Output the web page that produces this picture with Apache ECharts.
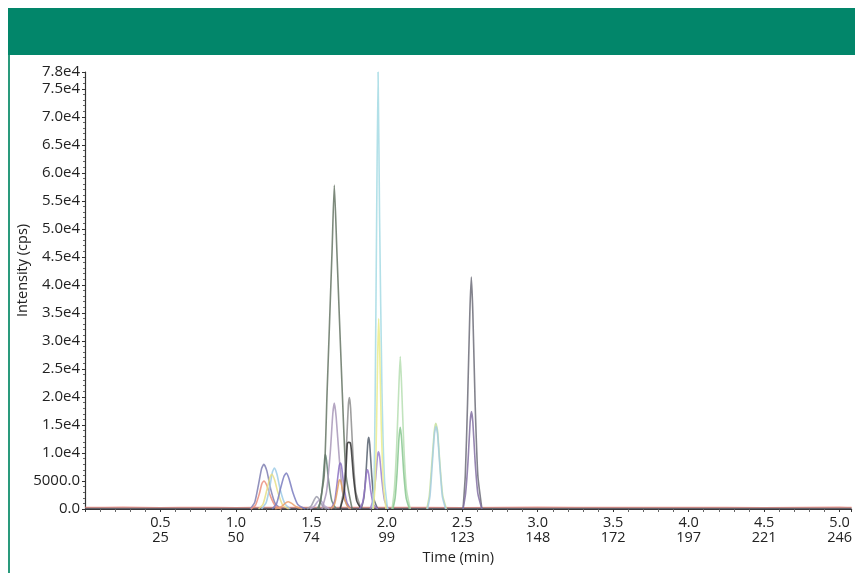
<!DOCTYPE html>
<html>
<head>
<meta charset="utf-8">
<script src="https://cdn.jsdelivr.net/npm/echarts@6/dist/echarts.min.js"></script>
<style>
html,body{margin:0;padding:0;background:#fff;}
#chart{width:855px;height:573px;}
</style>
</head>
<body>
<div id="chart"></div>
<script>
// ---- tick labels ----
const timeTicks = [0.5, 1.0, 1.5, 2.0, 2.5, 3.0, 3.5, 4.0, 4.5, 5.0];
const scanLabels = ['25', '50', '74', '99', '123', '148', '172', '197', '221', '246'];

// ---- traces: [time (min), intensity (cps)] ----
const baselineRed = [[0,250],[0.25,300],[0.5,200],[0.75,280],[1.0,220],[1.25,260],[1.5,240],[2.0,250],[2.5,230],[3.0,300],[3.5,240],[4.0,280],[4.5,230],[5.0,300],[5.08,260]];
const baselineDark = [[0,80],[0.5,60],[1.0,90],[1.5,70],[2.0,80],[2.5,60],[3.0,90],[3.5,70],[4.0,80],[4.5,60],[5.08,80]];
const trace01 = [[1.095,0],[1.125,1200],[1.15,4400],[1.17,7200],[1.185,8000],[1.205,6800],[1.23,3600],[1.26,1000],[1.30,0]];
const trace02 = [[1.10,0],[1.13,700],[1.155,2700],[1.172,4500],[1.185,5000],[1.205,4200],[1.23,2200],[1.26,600],[1.30,0]];
const trace03 = [[1.17,0],[1.20,1100],[1.225,4000],[1.242,6600],[1.255,7300],[1.272,6200],[1.295,3300],[1.325,900],[1.36,0]];
const trace04 = [[1.15,0],[1.18,900],[1.205,3400],[1.225,5600],[1.238,6200],[1.255,5300],[1.28,2800],[1.31,700],[1.35,0]];
const trace05 = [[1.24,0],[1.27,1000],[1.295,3600],[1.318,5800],[1.334,6400],[1.352,5400],[1.378,2900],[1.41,800],[1.46,0]];
const trace06 = [[1.26,0],[1.30,400],[1.33,1100],[1.348,1300],[1.37,1000],[1.40,400],[1.44,0]];
const trace07 = [[1.47,0],[1.50,600],[1.52,1700],[1.535,2200],[1.55,1800],[1.57,700],[1.60,0]];
const trace08 = [[1.49,0],[1.52,500],[1.54,1300],[1.556,1600],[1.57,1300],[1.59,500],[1.62,0]];
const trace09 = [[1.54,0],[1.562,1500],[1.578,5400],[1.588,8900],[1.593,9700],[1.60,8700],[1.615,4900],[1.635,1500],[1.665,0]];
const trace10 = [[1.55,0],[1.585,6000],[1.604,20700],[1.637,46000],[1.652,57800],[1.669,46000],[1.705,20700],[1.73,6000],[1.77,0]];
const trace11 = [[1.57,0],[1.60,3000],[1.625,10000],[1.642,17000],[1.652,18900],[1.664,16500],[1.685,9000],[1.71,2500],[1.75,0]];
const trace12 = [[1.63,0],[1.655,1500],[1.672,5000],[1.685,7800],[1.692,8200],[1.70,7600],[1.715,4200],[1.735,1200],[1.76,0]];
const trace13 = [[1.63,0],[1.655,1000],[1.672,3300],[1.683,5000],[1.688,5200],[1.697,4700],[1.712,2500],[1.735,700],[1.76,0]];
const trace14 = [[1.69,0],[1.715,3500],[1.732,11000],[1.745,18500],[1.752,19900],[1.76,18000],[1.775,10000],[1.795,3000],[1.83,0]];
const trace15 = [[1.69,0],[1.715,2500],[1.73,7500],[1.738,11600],[1.745,11900],[1.758,11800],[1.765,10500],[1.78,5500],[1.80,1500],[1.83,0]];
const trace16 = [[1.83,0],[1.848,2000],[1.862,6500],[1.874,11800],[1.88,12800],[1.887,11500],[1.90,6000],[1.915,1700],[1.94,0]];
const trace17 = [[1.82,0],[1.84,1200],[1.855,3800],[1.865,6400],[1.872,7000],[1.88,6200],[1.893,3300],[1.91,900],[1.94,0]];
const trace18 = [[1.89,0],[1.91,1800],[1.926,5500],[1.938,9400],[1.945,10200],[1.953,9200],[1.967,5200],[1.985,1500],[2.01,0]];
const trace19 = [[1.905,0],[1.915,4000],[1.923,20700],[1.932,50000],[1.942,78000],[1.952,52000],[1.968,20700],[1.985,5000],[2.005,0]];
const trace20 = [[1.91,0],[1.922,4000],[1.932,15000],[1.94,28000],[1.946,34000],[1.953,28000],[1.963,15000],[1.978,4000],[1.995,0]];
const trace21 = [[2.035,0],[2.05,3500],[2.065,11000],[2.08,22000],[2.089,27200],[2.098,22000],[2.113,11000],[2.13,3500],[2.155,0]];
const trace22 = [[2.04,0],[2.055,2000],[2.068,6500],[2.08,12500],[2.089,14600],[2.098,12500],[2.112,6500],[2.128,2000],[2.15,0]];
const trace23 = [[2.265,0],[2.282,2500],[2.298,8000],[2.315,14000],[2.325,15300],[2.336,14000],[2.352,8000],[2.37,2500],[2.395,0]];
const trace24 = [[2.27,0],[2.286,2300],[2.30,7500],[2.316,13500],[2.326,14700],[2.336,13400],[2.352,7400],[2.368,2200],[2.39,0]];
const trace25 = [[2.505,0],[2.52,6000],[2.535,19000],[2.55,35000],[2.56,41400],[2.57,35000],[2.585,19000],[2.603,6000],[2.63,0]];
const trace26 = [[2.505,0],[2.522,2800],[2.538,8500],[2.552,15500],[2.561,17400],[2.57,15500],[2.585,8500],[2.603,2800],[2.63,0]];

const traces = [baselineRed, baselineDark, trace01, trace02, trace03, trace04, trace05, trace06, trace07, trace08, trace09,
  trace10, trace11, trace12, trace13, trace14, trace15, trace16, trace17, trace18, trace19, trace20,
  trace21, trace22, trace23, trace24, trace25, trace26];

// styling (kept apart from data)
const traceColors = ['#e8877c', '#4a4a55', '#7f7fb2', '#eb8f7c', '#9ccbe6', '#e6df86', '#7a7cc0', '#eba16f',
  '#9c9cab', '#b4a4cc', '#5f8073', '#667565', '#a898b8', '#8a70c2', '#e2a062', '#8e8e8e', '#2f2f2f',
  '#56606e', '#9374c6', '#9a82d0', '#a4dae4', '#ecec8c', '#b6deb2', '#86c68e', '#c6e09c', '#a6cce2',
  '#6d6d79', '#8270a2'];

const FONT = 'Open Sans';

const series = traces.map((d, i) => ({
  name: 'trace' + i,
  type: 'line',
  data: d,
  showSymbol: false,
  smooth: 0.2,
  z: 2 + i,
  lineStyle: { color: traceColors[i], width: 1.6, opacity: 0.85 },
  itemStyle: { color: traceColors[i] }
}));

const chart = echarts.init(document.getElementById('chart'), null, { renderer: 'canvas' });
chart.setOption({
  animation: false,
  backgroundColor: '#ffffff',
  graphic: [
    { type: 'rect', left: 8, top: 8, shape: { width: 847, height: 47 }, style: { fill: '#02866a' }, silent: true },
    { type: 'rect', left: 8, top: 55, shape: { width: 2, height: 518 }, style: { fill: '#2a9a7c' }, silent: true }
  ],
  grid: { left: 85, right: 3, top: 72, bottom: 64, containLabel: false },
  xAxis: {
    type: 'value',
    min: 0,
    max: 5.08,
    interval: 0.5,
    name: 'Time (min)',
    nameLocation: 'middle',
    nameGap: 37,
    nameTextStyle: { fontFamily: FONT, fontSize: 14.5, color: '#222', padding: [0, 20, 0, 0] },
    axisLine: { show: true, lineStyle: { color: '#333', width: 1.2 } },
    axisTick: { show: true, length: 3, lineStyle: { color: '#333' } },
    minorTick: { show: true, splitNumber: 5, length: 3, lineStyle: { color: '#666' } },
    splitLine: { show: false },
    axisLabel: {
      margin: 6,
      showMinLabel: false,
      showMaxLabel: false,
      fontFamily: FONT,
      fontSize: 14.5,
      lineHeight: 15,
      color: '#222',
      formatter: function (v) {
        const i = timeTicks.findIndex(t => Math.abs(t - v) < 1e-6);
        return i < 0 ? '' : timeTicks[i].toFixed(1) + '\n' + scanLabels[i];
      }
    }
  },
  yAxis: {
    type: 'value',
    min: 0,
    max: 78000,
    interval: 5000,
    name: 'Intensity (cps)',
    nameLocation: 'middle',
    nameGap: 55,
    nameMoveOverlap: false,
    nameTextStyle: { fontFamily: FONT, fontSize: 14.5, color: '#222', padding: [0, 0, 0, 40] },
    axisLine: { show: true, lineStyle: { color: '#333', width: 1.2 } },
    axisTick: { show: true, length: 3, lineStyle: { color: '#333' } },
    minorTick: { show: true, splitNumber: 5, length: 2, lineStyle: { color: '#666' } },
    splitLine: { show: false },
    axisLabel: {
      margin: 5,
      fontFamily: FONT,
      fontSize: 15,
      color: '#222',
      formatter: function (v) {
        if (v === 0) return '0.0';
        if (v === 5000) return '5000.0';
        return (v / 10000).toFixed(1) + 'e4';
      }
    }
  },
  series: series
});
</script>
</body>
</html>
